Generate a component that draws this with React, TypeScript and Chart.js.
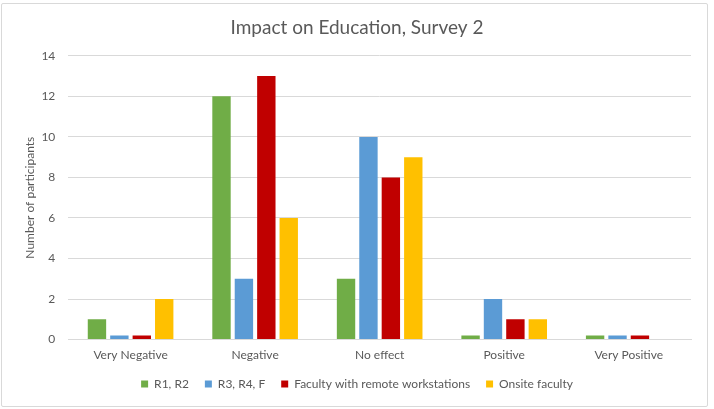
import { useEffect, useRef } from "react";
import Chart from "chart.js/auto";

// categories on the x axis
const categories = ["Very Negative", "Negative", "No effect", "Positive", "Very Positive"];

// series values (tiny bars in the picture are read as 0.2)
const r1r2 = [1, 12, 3, 0.2, 0.2];
const r3r4f = [0.2, 3, 10, 2, 0.2];
const remoteFaculty = [0.2, 13, 8, 1, 0.2];
const onsiteFaculty = [2, 6, 9, 1, 0];

const seriesNames = ["R1, R2", "R3, R4, F", "Faculty with remote workstations", "Onsite faculty"];
const seriesColors = ["#70AD47", "#5B9BD5", "#C00000", "#FFC000"];

const FONT = "Lato";
const TEXT = "#595959";

export default function App() {
  const ref = useRef<HTMLCanvasElement | null>(null);

  useEffect(() => {
    document.body.style.margin = "0";
    if (!ref.current) return;
    const ctx = ref.current.getContext("2d");
    if (!ctx) return;

    const values = [r1r2, r3r4f, remoteFaculty, onsiteFaculty];

    const chart = new Chart(ctx, {
      type: "bar",
      data: {
        labels: categories,
        datasets: values.map((v, i) => ({
          label: seriesNames[i],
          data: v,
          backgroundColor: seriesColors[i],
          borderWidth: 0,
          categoryPercentage: 0.72,
          barPercentage: 0.82,
        })),
      },
      options: {
        animation: false,
        responsive: false,
        maintainAspectRatio: false,
        layout: { padding: { left: 23, right: 23, top: 6, bottom: 9 } },
        plugins: {
          title: {
            display: true,
            text: "Impact on Education, Survey 2",
            color: TEXT,
            font: { family: FONT, size: 19, weight: "normal" },
            padding: { top: 10, bottom: 17 },
          },
          legend: {
            position: "bottom",
            labels: {
              color: TEXT,
              font: { family: FONT, size: 12 },
              boxWidth: 7,
              boxHeight: 7,
              padding: 16,
            },
          },
          tooltip: { enabled: false },
        },
        scales: {
          x: {
            grid: { display: false },
            border: { color: "#d9d9d9" },
            ticks: { color: TEXT, font: { family: FONT, size: 12 }, padding: 0 },
          },
          y: {
            min: 0,
            max: 14,
            ticks: { stepSize: 2, color: TEXT, font: { family: FONT, size: 12 }, padding: 13 },
            grid: { color: "#d9d9d9", drawTicks: false },
            border: { display: false },
            title: {
              display: true,
              text: "Number of participants",
              color: TEXT,
              font: { family: FONT, size: 12 },
              padding: { top: 0, bottom: 2 },
            },
            afterFit: (scale) => {
              scale.width -= 11;
            },
          },
        },
      },
    });

    return () => chart.destroy();
  }, []);

  return (
    <div style={{ position: "fixed", left: 0, top: 0, width: 714, height: 409, background: "#fff" }}>
      <div
        style={{
          position: "absolute",
          left: 1,
          top: 3,
          width: 707,
          height: 404,
          boxSizing: "border-box",
          border: "1px solid #d9d9d9",
          borderRadius: 2,
        }}
      />
      <canvas ref={ref} width={714} height={409} style={{ position: "absolute", left: 0, top: 0 }} />
    </div>
  );
}
